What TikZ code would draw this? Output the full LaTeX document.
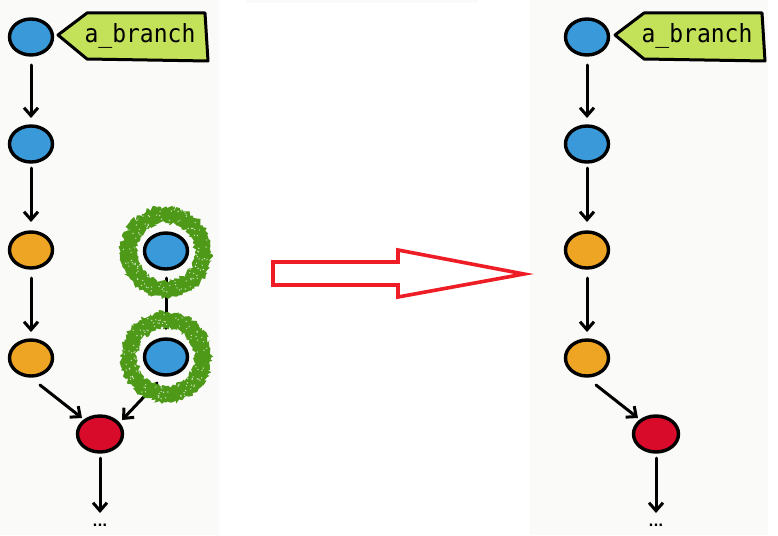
\documentclass[tikz,border=0pt]{standalone}
\usepackage{fontspec}
\usetikzlibrary{shapes.geometric,arrows.meta,calc,decorations.pathmorphing}
\newfontfamily\tagfont[FakeStretch=0.92]{DejaVu Sans Mono}
\newfontfamily\dotfont{DejaVu Sans}
\definecolor{cblue}{HTML}{3A9AD9}
\definecolor{corange}{HTML}{EFA524}
\definecolor{cred}{HTML}{D90B2A}
\definecolor{ctag}{HTML}{C4E15A}
\definecolor{cring}{HTML}{4E9A18}
\definecolor{cpanel}{HTML}{FAFAF8}
\definecolor{cbig}{HTML}{EE1C24}
\begin{document}
\begin{tikzpicture}[x=1pt,y=-1pt,
  commit/.style={ellipse,draw=black,line width=3.4pt,minimum width=43pt,minimum height=36pt,inner sep=0pt},
  bluec/.style={commit,fill=cblue},
  orangec/.style={commit,fill=corange},
  redc/.style={commit,fill=cred,minimum width=45pt},
  arr/.style={-{Straight Barb[length=8pt,width=14pt,line width=3pt]},line width=3pt,line cap=round},
  tagshape/.style={fill=ctag,draw=black,line width=3pt,line join=round},
  tagtext/.style={anchor=base,inner sep=0pt,font=\tagfont\fontsize{25}{25}\selectfont},
  dots/.style={inner sep=0pt,font=\dotfont\bfseries\fontsize{13}{13}\selectfont},
  ring/.style={fill=cring,even odd rule,decorate,decoration={random steps,segment length=2pt,amplitude=2.2pt}},
  bigarrow/.style={draw=cbig,fill=white,line width=3.6pt,line join=miter}
]
\useasboundingbox (0,0) rectangle (778,535);
\fill[white] (0,0) rectangle (778,535);
\fill[cpanel] (0,0) rectangle (219,535);
\fill[cpanel] (530,0) rectangle (768,535);
\fill[cpanel] (246,0) rectangle (478,3);

% ---------- left panel ----------
\node[bluec] (n1) at (31,37) {};
\node[bluec] (n2) at (31,144) {};
\node[orangec] (n3) at (31,250) {};
\node[orangec] (n4) at (31,358) {};
\node[redc] (r) at (100,434) {};
\node[bluec] (ub) at (166,251) {};
\node[bluec] (lb) at (166,357) {};
\node[dots] (d) at (100,525) {...};

\draw[tagshape] (58,35) -- (87,13) -- (205,13) -- (208,61) -- (87,59) -- cycle;
\node[tagtext] (t1) at (140,42) {a\_branch};

\draw[arr] ($(n1)+(0,28)$) -- ($(n2)+(0,-26)$);
\draw[arr] ($(n2)+(0,24)$) -- ($(n3)+(0,-28)$);
\draw[arr] ($(n3)+(0,28)$) -- ($(n4)+(0,-26)$);
\draw[arr] ($(n4)+(9,27)$) -- ($(r)+(-18,-16)$);
\draw[arr] ($(ub)+(0,27)$) -- ($(lb)+(0,-27)$);
\draw[arr] ($(lb)+(-9,26)$) -- ($(r)+(22,-14)$);
\draw[arr] ($(r)+(0,24)$) -- ($(d)+(0,-12)$);

\fill[ring] ($(ub)+(0,1)$) circle[radius=45.5] ($(ub)+(0,1)$) circle[radius=29];
\fill[ring] (lb) circle[radius=45.5] (lb) circle[radius=29];
\pgfmathsetseed{7}
\foreach \c in {ub,lb}{
  \foreach \i in {1,...,110}{
    \pgfmathsetmacro{\ang}{rnd*360}
    \pgfmathsetmacro{\rad}{30+rnd*13}
    \fill[white,opacity=0.75] ($(\c)+(\ang:\rad)$) circle[radius=0.7];
  }
}

% ---------- big arrow ----------
\draw[bigarrow] (273,262) -- (398,262) -- (398,250) -- (524,274) -- (398,297) -- (398,285) -- (273,285) -- cycle;

% ---------- right panel ----------
\node[bluec] (m1) at (587,37) {};
\node[bluec] (m2) at (587,144) {};
\node[orangec] (m3) at (587,250) {};
\node[orangec] (m4) at (587,358) {};
\node[redc] (s) at (656,434) {};
\node[dots] (e) at (656,525) {...};

\draw[tagshape] (615,35) -- (644,13) -- (762,13) -- (765,61) -- (644,59) -- cycle;
\node[tagtext] (t2) at (697,42) {a\_branch};

\draw[arr] ($(m1)+(0,28)$) -- ($(m2)+(0,-26)$);
\draw[arr] ($(m2)+(0,24)$) -- ($(m3)+(0,-28)$);
\draw[arr] ($(m3)+(0,28)$) -- ($(m4)+(0,-26)$);
\draw[arr] ($(m4)+(9,27)$) -- ($(s)+(-18,-16)$);
\draw[arr] ($(s)+(0,24)$) -- ($(e)+(0,-12)$);
\end{tikzpicture}
\end{document}
